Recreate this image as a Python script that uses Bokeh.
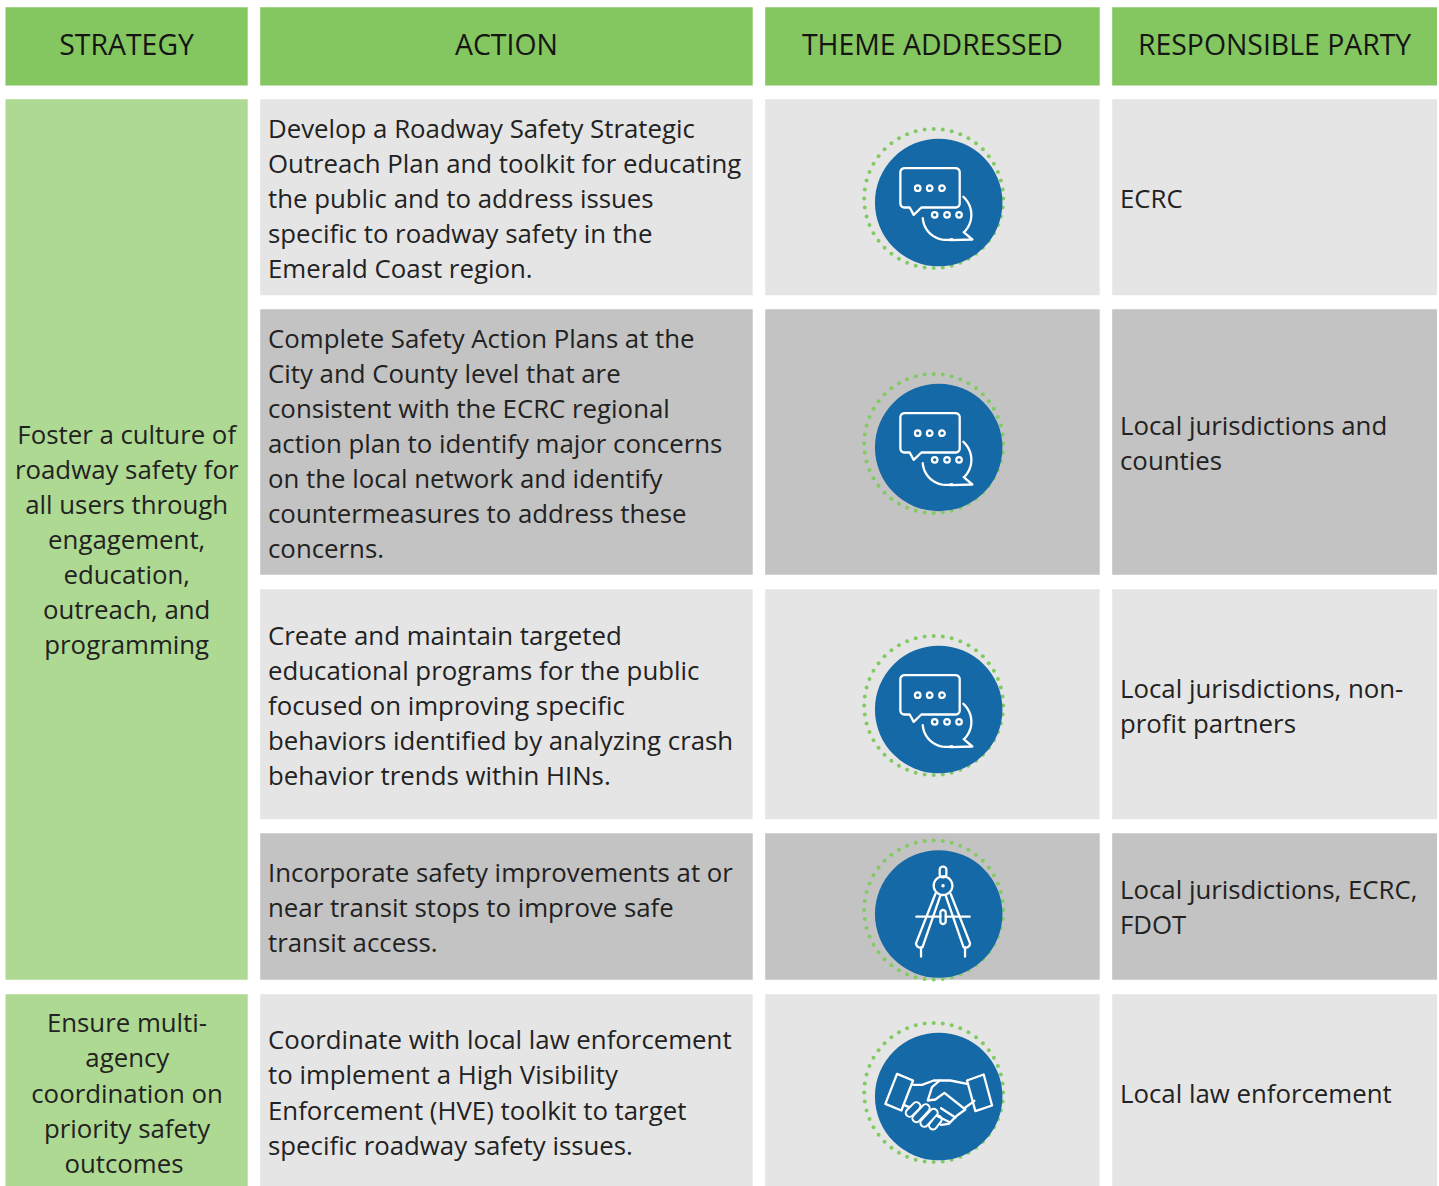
import numpy as np
from bokeh.plotting import figure
from bokeh.embed import file_html
from bokeh.resources import INLINE
from bokeh.core.properties import value

# ---- content ----
headers = ["STRATEGY", "ACTION", "THEME ADDRESSED", "RESPONSIBLE PARTY"]
strategies = [
    ["Foster a culture of", "roadway safety for", "all users through", "engagement,",
     "education,", "outreach, and", "programming"],
    ["Ensure multi-", "agency", "coordination on", "priority safety", "outcomes"],
]
actions = [
    ["Develop a Roadway Safety Strategic", "Outreach Plan and toolkit for educating",
     "the public and to address issues", "specific to roadway safety in the",
     "Emerald Coast region."],
    ["Complete Safety Action Plans at the", "City and County level that are",
     "consistent with the ECRC regional", "action plan to identify major concerns",
     "on the local network and identify", "countermeasures to address these", "concerns."],
    ["Create and maintain targeted", "educational programs for the public",
     "focused on improving specific", "behaviors identified by analyzing crash",
     "behavior trends within HINs."],
    ["Incorporate safety improvements at or", "near transit stops to improve safe",
     "transit access."],
    ["Coordinate with local law enforcement", "to implement a High Visibility",
     "Enforcement (HVE) toolkit to target", "specific roadway safety issues."],
]
parties = [
    ["ECRC"],
    ["Local jurisdictions and", "counties"],
    ["Local jurisdictions, non-", "profit partners"],
    ["Local jurisdictions, ECRC,", "FDOT"],
    ["Local law enforcement"],
]
themes = ["chat", "chat", "chat", "compass", "handshake"]

# ---- layout (page pixels) ----
W, H = 1439, 1186
col_l = [5, 259.7, 764.7, 1111.7]
col_r = [247.2, 752.2, 1099.2, 1436.5]
head_t, head_b = 6.7, 85
row_t = [98.8, 308.8, 588.7, 832.8, 993.8]
row_b = [294.8, 574.2, 818.8, 979.2, 1186]
strat_t = [98.8, 993.8]
strat_b = [979.2, 1186]
TX = 267.5
PX = 1119.5
act_y = [[127.8, 162.8, 197.8, 232.8, 267.8],
         [337.8, 372.3, 407.0, 442.0, 477.5, 512.5, 547.0],
         [634.3, 669.6, 704.6, 739.6, 774.6],
         [871.8, 906.6, 941.2],
         [1038.8, 1073.8, 1109.8, 1144.8]]
party_y = [[197.8], [424.5, 459.8], [687.5, 722.4], [888.8, 923.8], [1092.5]]
strat_y = [[433.8, 468.8, 503.8, 538.8, 573.8, 608.8, 643.8],
           [1021.8, 1056.8, 1092.8, 1127.8, 1162.8]]
strat_x = [[126.2] * 7, [126.5, 126.8, 126.5, 126.5, 123.5]]
head_y = 43.2
icon_x = 938.2
icon_y = [202, 447, 709, 913.5, 1096]

GREEN, LGREEN = "#84c65f", "#aed992"
LGRAY, DGRAY = "#e5e5e5", "#c3c3c3"
BLUE, DOT, INK = "#1569a6", "#82ca62", "#222222"
FONT = value("Open Sans")
SIZE = "25.8px"
HSIZE = "28.4px"

p = figure(width=W, height=H, x_range=(0, W), y_range=(H, 0), output_backend="svg",
           toolbar_location=None, x_axis_location=None, y_axis_location=None,
           min_border=0, outline_line_color=None, background_fill_color="white",
           border_fill_color="white")
p.grid.visible = False
p.styles = {"position": "absolute", "left": "0px", "top": "0px"}

# header cells
p.quad(left=col_l, right=col_r, top=[head_t] * 4, bottom=[head_b] * 4,
       fill_color=GREEN, line_color=None)
p.text([(l + r) / 2 for l, r in zip(col_l, col_r)], [head_y] * 4, text=headers, text_font=FONT,
       text_font_size=HSIZE, text_align="center", text_baseline="middle", text_color="#151515")

# strategy cells
p.quad(left=[col_l[0]] * 2, right=[col_r[0]] * 2, top=strat_t, bottom=strat_b,
       fill_color=LGREEN, line_color=None)
for lines, ys, xs in zip(strategies, strat_y, strat_x):
    p.text(xs, ys, text=lines, text_font=FONT, text_font_size=SIZE,
           text_align="center", text_baseline="middle", text_color=INK)

# body cells
for c in (1, 2, 3):
    p.quad(left=[col_l[c]] * 5, right=[col_r[c]] * 5, top=row_t, bottom=row_b,
           fill_color=[LGRAY, DGRAY, LGRAY, DGRAY, LGRAY], line_color=None)
for lines, ys in zip(actions, act_y):
    p.text([TX] * len(lines), ys, text=lines, text_font=FONT, text_font_size=SIZE,
           text_align="left", text_baseline="middle", text_color=INK)
for lines, ys in zip(parties, party_y):
    p.text([PX] * len(lines), ys, text=lines, text_font=FONT, text_font_size=SIZE,
           text_align="left", text_baseline="middle", text_color=INK)


# ---- icons ----
def rrect(x0, y0, x1, y1, r):
    """Closed rounded rectangle path (clockwise on screen, from the top right corner)."""
    a = np.linspace(0, np.pi / 2, 6)
    xs, ys = [], []
    for cx, cy, start in ((x1 - r, y0 + r, -np.pi / 2), (x1 - r, y1 - r, 0),
                          (x0 + r, y1 - r, np.pi / 2), (x0 + r, y0 + r, np.pi)):
        xs += list(cx + r * np.cos(start + a))
        ys += list(cy + r * np.sin(start + a))
    return xs + xs[:1], ys + ys[:1]


def arc(cx, cy, r, a0, a1, n=24):
    t = np.radians(np.linspace(a0, a1, n))
    return list(cx + r * np.cos(t)), list(cy + r * np.sin(t))


def draw_paths(cx, cy, o, paths, width=2.3):
    xs = [[cx + (v - o[0]) / 3 for v in path[0]] for path in paths]
    ys = [[cy + (v - o[1]) / 3 for v in path[1]] for path in paths]
    p.multi_line(xs, ys, line_color="white", line_width=width, line_join="round", line_cap="round")


def badge(cx, cy):
    t = np.linspace(0, 2 * np.pi, 48, endpoint=False)
    p.scatter(cx - 5 + 69.5 * np.cos(t), cy - 4 + 69.5 * np.sin(t), size=4, marker="circle",
              fill_color=DOT, line_color=None)
    p.scatter([cx], [cy], size=127.5, marker="circle", fill_color=BLUE, line_color=None)


def chat(cx, cy):
    o = (265, 261)
    bx, by = rrect(150, 158, 328, 276, 12)
    # the tail of the first bubble sits in its lower edge
    box = (bx[12:24] + bx[0:12] + [213, 190, 178, bx[12]],
           by[12:24] + by[0:12] + [276, 298, 276, by[12]])
    a2x, a2y = arc(290, 298, 73, -48, 45, 16)
    a3x, a3y = arc(287, 303, 70, 75, 176, 18)
    b2 = (a2x + [340, 366, 300] + a3x, a2y + [350, 372, 374] + a3y)
    draw_paths(cx, cy, o, [box, b2])
    rx = [202, 238, 275, 253, 290, 326]
    ry = [218, 218, 218, 298, 298, 298]
    p.scatter([cx + (v - o[0]) / 3 for v in rx], [cy + (v - o[1]) / 3 for v in ry], size=5.6,
              marker="circle", fill_color=BLUE, line_color="white", line_width=2.2)


def compass(cx, cy):
    o = (265, 250)
    hx, hy = rrect(268, 108, 288, 140, 9)
    ring = arc(278, 165, 28, 0, 360, 40)
    sl = rrect(270, 238, 286, 280, 8)
    paths = [
        (hx, hy), ring,
        ([255, 198] + arc(210, 338, 13, 180, 60, 8)[0] + [270],
         [190, 335] + arc(210, 338, 13, 180, 60, 8)[1] + [195]),
        ([301, 358] + arc(346, 338, 13, 0, 120, 8)[0] + [286],
         [190, 335] + arc(346, 338, 13, 0, 120, 8)[1] + [195]),
        ([212, 212], [350, 378]), ([344, 344], [350, 378]),
        ([198, 270], [258, 258]), ([286, 358], [258, 258]),
        sl,
    ]
    draw_paths(cx, cy, o, paths)
    p.scatter([cx + (278 - o[0]) / 3], [cy + (165 - o[1]) / 3], size=3.5, marker="circle",
              fill_color="white", line_color=None)


def handshake(cx, cy):
    o = (265, 243)
    to_x = lambda v: cx + (v - o[0]) / 3
    to_y = lambda v: cy + (v - o[1]) / 3
    paths = [
        ([140, 188, 153, 105, 140], [175, 195, 285, 265, 175]),
        ([350, 400, 425, 375, 350], [195, 177, 270, 287, 195]),
        ([188, 215, 250, 300, 350], [208, 208, 195, 195, 205]),
        ([268, 245, 232, 255, 282, 345, 320, 295, 272],
         [195, 215, 255, 252, 232, 282, 300, 325, 328]),
        ([272, 315], [278, 306]), ([262, 298], [302, 320]),
        ([345, 372], [276, 256]), ([160, 176], [268, 275]),
    ]
    # finger capsules: white stroke with a blue core
    fx = [[178, 198], [198, 226], [222, 250], [248, 262]]
    fy = [[292, 272], [308, 278], [322, 292], [330, 312]]
    p.multi_line([[to_x(v) for v in f] for f in fx], [[to_y(v) for v in f] for f in fy],
                 line_color="white", line_width=10, line_cap="round")
    p.multi_line([[to_x(v) for v in f] for f in fx], [[to_y(v) for v in f] for f in fy],
                 line_color=BLUE, line_width=5.8, line_cap="round")
    draw_paths(cx, cy, o, paths)


ICONS = {"chat": chat, "compass": compass, "handshake": handshake}
for theme, y in zip(themes, icon_y):
    badge(icon_x, y)
    ICONS[theme](icon_x, y)

open("out.html", "w").write(file_html(p, INLINE))
